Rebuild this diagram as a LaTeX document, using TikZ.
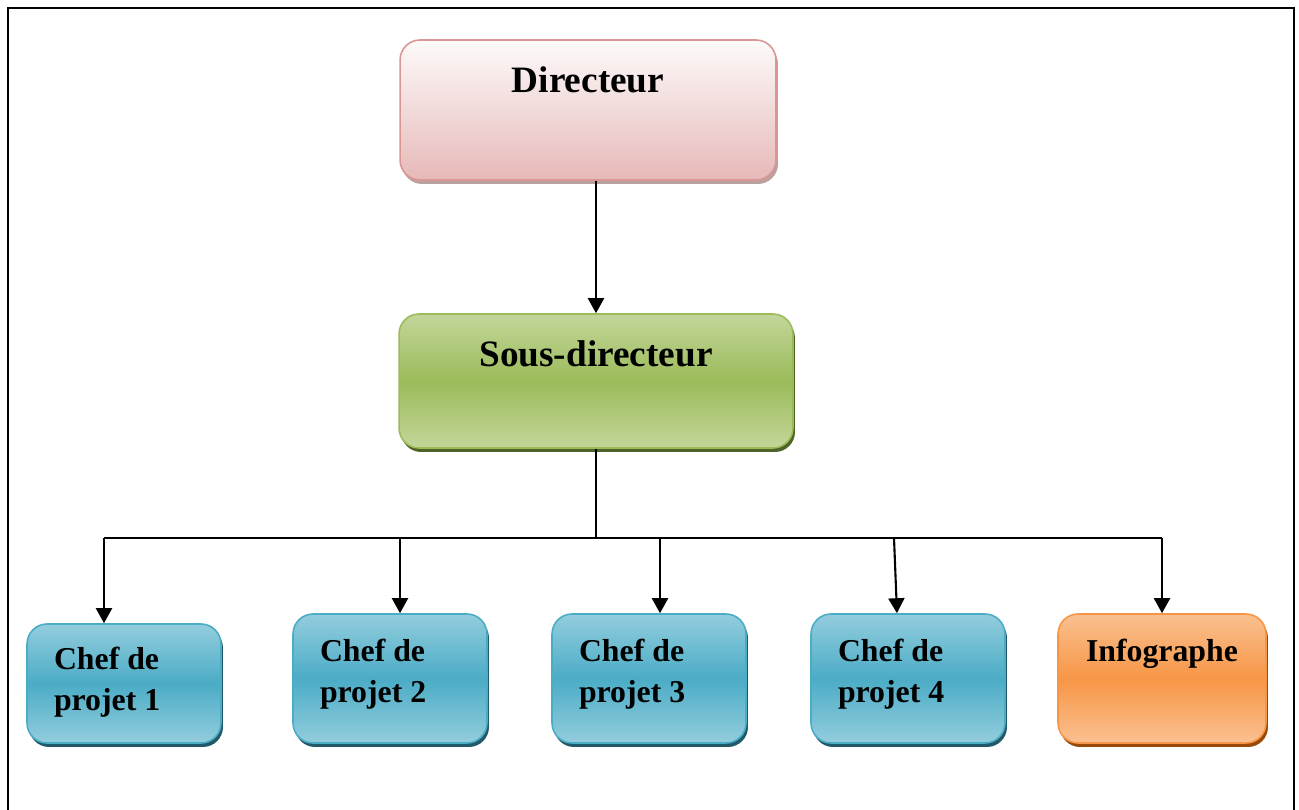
\documentclass[tikz,border=0pt]{standalone}
\usepackage{fontspec}
\setmainfont{Liberation Serif}
\usetikzlibrary{arrows.meta,shadows,calc}
\definecolor{dirtop}{HTML}{FDFAFA}
\definecolor{dirbot}{HTML}{E6B9B8}
\definecolor{dirline}{HTML}{D99694}
\definecolor{dirshade}{HTML}{BBA0A0}
\definecolor{sdlight}{HTML}{C3D69B}
\definecolor{sdmid}{HTML}{9BBB59}
\definecolor{sdshade}{HTML}{4F6228}
\definecolor{cplight}{HTML}{93CDDD}
\definecolor{cpmid}{HTML}{4BACC6}
\definecolor{cpshade}{HTML}{215968}
\definecolor{iglight}{HTML}{FAC090}
\definecolor{igmid}{HTML}{F79646}
\definecolor{igshade}{HTML}{984807}
\tikzset{
  orgbox/.style={rectangle,rounded corners=0.4cm,line width=0.9pt,inner sep=0pt},
  bigtext/.style={font=\bfseries\fontsize{21.2pt}{25pt}\selectfont},
  smalltext/.style={font=\bfseries\fontsize{18.1pt}{23.6pt}\selectfont},
  dirbox/.style={orgbox,bigtext,draw=dirline,top color=dirtop,bottom color=dirbot,
    drop shadow={shadow xshift=0.04cm,shadow yshift=-0.08cm,fill=dirshade,opacity=1}},
  sdbox/.style={orgbox,bigtext,draw=sdmid,top color=sdlight,bottom color=sdlight,middle color=sdmid,
    drop shadow={shadow xshift=0.04cm,shadow yshift=-0.08cm,fill=sdshade,opacity=1}},
  cpbox/.style={orgbox,smalltext,draw=cpmid,top color=cplight,bottom color=cplight,middle color=cpmid,
    text width=2.8cm,inner xsep=0.54cm,align=flush left,
    drop shadow={shadow xshift=0.04cm,shadow yshift=-0.08cm,fill=cpshade,opacity=1}},
  igbox/.style={orgbox,smalltext,draw=igmid,top color=iglight,bottom color=iglight,middle color=igmid,
    text width=4.16cm,align=center,
    drop shadow={shadow xshift=0.04cm,shadow yshift=-0.08cm,fill=igshade,opacity=1}},
  link/.style={line width=1.2pt,-{Triangle[width=0.32cm,length=0.3cm]}}
}
\begin{document}
\begin{tikzpicture}[x=0.02cm,y=-0.02cm]
\useasboundingbox (0,0) rectangle (1299,810);
\draw[line width=1pt] (8,810) -- (8,8) -- (1294,8) -- (1294,810);

% top of the chart
\node(dir) [dirbox,text width=7.52cm,align=center,text height=1.06cm,text depth=1.74cm] at (588,110) {Directeur};
\node(sd) [sdbox,text width=7.88cm,align=center,text height=1.06cm,text depth=1.62cm] at (596,381) {Sous-directeur};

% project leads
\node(cp1) [cpbox,text height=0.9cm,text depth=1.48cm] at (124,683.5) {Chef de\\projet 1};
\node(cp2) [cpbox,text height=0.94cm,text depth=1.64cm] at (390,678.5) {Chef de\\projet 2};
\node(cp3) [cpbox,text height=0.94cm,text depth=1.64cm] at (649,678.5) {Chef de\\projet 3};
\node(cp4) [cpbox,text height=0.94cm,text depth=1.64cm] at (908,678.5) {Chef de\\projet 4};
\node(ig) [igbox,text height=0.94cm,text depth=1.64cm] at (1162,678.5) {Infographe};

\coordinate (b1) at (104,538);
\coordinate (b2) at (400,538);
\coordinate (b3) at (660,538);
\coordinate (b4) at (894,538);
\coordinate (b5) at (1162,538);

\draw[link] (sd.north |- dir.south) -- (sd.north);
\draw[line width=1pt] (sd.south) -- (sd.south |- b1);
\draw[line width=0.9pt] (b1) -- (b5);
\draw[link] (b1) -- (b1 |- cp1.north);
\draw[link] (b2) -- (b2 |- cp2.north);
\draw[link] (b3) -- (b3 |- cp3.north);
\draw[link] (b4) -- ($(cp4.north)+(-11,0)$);
\draw[link] (b5) -- (b5 |- ig.north);
\end{tikzpicture}
\end{document}
